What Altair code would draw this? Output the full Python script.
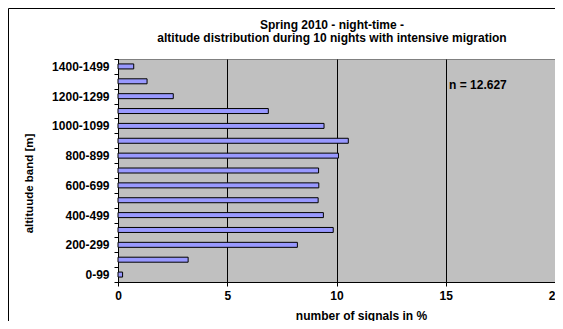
import altair as alt
import pandas as pd

# ---- data ----
bands = ["0-99", "100-199", "200-299", "300-399", "400-499", "500-599", "600-699",
         "700-799", "800-899", "900-999", "1000-1099", "1100-1199", "1200-1299",
         "1300-1399", "1400-1499"]
percent = [0.21, 3.21, 8.21, 9.85, 9.40, 9.16, 9.19, 9.18, 10.09, 10.54, 9.43,
           6.88, 2.53, 1.33, 0.72]
shown_labels = ["0-99", "200-299", "400-499", "600-699", "800-899", "1000-1099",
                "1200-1299", "1400-1499"]
x_ticks = [0, 5, 10, 15, 20]
title_line1 = "Spring 2010 - night-time -"
title_line2 = "altitude distribution during 10 nights with intensive migration"
n_label = "n = 12.627"
n_pos_x = 15.15
n_pos_band = "1300-1399"

FONT = "Liberation Sans"
FS = 12
W, H = 437, 223

df = pd.DataFrame({"band": bands, "pct": percent})
order = list(reversed(bands))

label_expr = ("indexof(" + str(shown_labels).replace('"', "'")
              + ", datum.value) >= 0 ? datum.label : ''")

x_enc = alt.X(
    "pct:Q",
    scale=alt.Scale(domain=[0, 20], nice=False, zero=True),
    axis=alt.Axis(
        values=x_ticks, title="number of signals in %", grid=True,
        gridColor="#000000", gridWidth=1, gridOpacity=1,
        domainColor="#000000", tickColor="#000000", tickSize=4,
        labelFont=FONT, labelFontSize=FS, labelFontWeight="bold", labelColor="#000000",
        labelPadding=4, labelFlush=False,
        titleFont=FONT, titleFontSize=FS, titleFontWeight="bold", titleColor="#000000",
        titleX=243, titleY=37, titleAlign="center", titleBaseline="alphabetic",
    ),
)
y_enc = alt.Y(
    "band:N", sort=order,
    scale=alt.Scale(paddingInner=0, paddingOuter=0),
    axis=alt.Axis(
        title="altituude band [m]", tickBand="extent", tickSize=4,
        tickColor="#000000", domainColor="#000000",
        labelExpr=label_expr, labelPadding=5,
        labelFont=FONT, labelFontSize=FS, labelFontWeight="bold", labelColor="#000000",
        titleFont=FONT, titleFontSize=11.5, titleFontWeight="bold", titleColor="#000000",
        titleAngle=270, titleX=-89, titleY=124, titleAlign="center", titleBaseline="middle",
    ),
)

one = pd.DataFrame({"k": [0]})

frame_left = alt.Chart(one).mark_rule(color="#000000", strokeWidth=1).encode(
    x=alt.value(-109.5), y=alt.value(-50.5), y2=alt.value(300)
)
frame_top = alt.Chart(one).mark_rule(color="#000000", strokeWidth=1).encode(
    x=alt.value(-109.5), x2=alt.value(500), y=alt.value(-50.5)
)

bars = alt.Chart(df).mark_bar(
    size=5, color="#9999ff", stroke="#000000", strokeWidth=1
).encode(x=x_enc, y=y_enc)

ntext = alt.Chart(one).mark_text(
    align="left", baseline="middle", font=FONT, fontSize=FS, fontWeight="bold",
    color="#000000", dy=4
).encode(
    x=alt.datum(n_pos_x), y=alt.datum(n_pos_band), text=alt.value(n_label)
)

t1 = alt.Chart(one).mark_text(
    align="center", baseline="alphabetic", font=FONT, fontSize=FS, fontWeight="bold",
    color="#000000"
).encode(x=alt.value(214), y=alt.value(-30.5), text=alt.value(title_line1))
t2 = alt.Chart(one).mark_text(
    align="center", baseline="alphabetic", font=FONT, fontSize=FS, fontWeight="bold",
    color="#000000"
).encode(x=alt.value(214), y=alt.value(-17.5), text=alt.value(title_line2))

chart = alt.layer(frame_left, frame_top, bars, ntext, t1, t2).properties(
    width=W, height=H,
    padding={"left": 110, "top": 51, "right": 0, "bottom": 39},
    autosize=alt.AutoSizeParams(type="none"),
    background="#ffffff",
).configure_view(
    fill="#c0c0c0", stroke="#808080", strokeWidth=1
)

chart.save("out.html", embed_options={"renderer": "svg", "actions": False})
